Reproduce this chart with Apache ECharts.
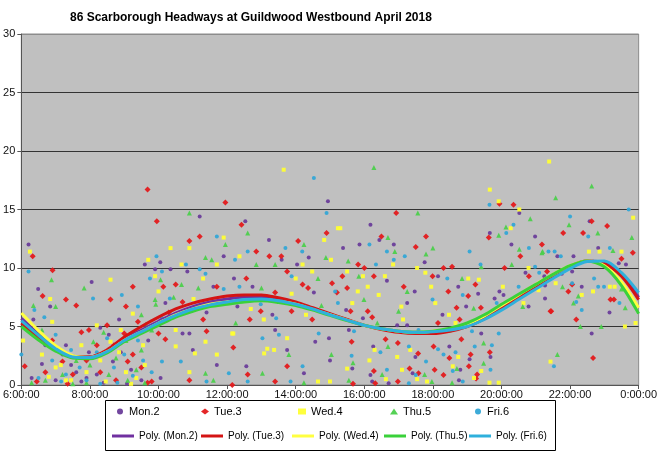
<!DOCTYPE html>
<html>
<head>
<meta charset="utf-8">
<script src="https://cdn.jsdelivr.net/npm/echarts@6/dist/echarts.min.js"></script>
<style>html,body{margin:0;padding:0;background:#fff;}#c{width:660px;height:453px;}</style>
</head>
<body>
<div id="c"></div>
<script>
const titleText = '86 Scarborough Headways at Guildwood Westbound April 2018';
const xTicks = [6, 8, 10, 12, 14, 16, 18, 20, 22, 24];
const seriesNames = ['Mon.2', 'Tue.3', 'Wed.4', 'Thu.5', 'Fri.6'];
const trendNames = ['Poly. (Mon.2)', 'Poly. (Tue.3)', 'Poly. (Wed.4)', 'Poly. (Thu.5)', 'Poly. (Fri.6)'];

// [hour of day, headway minutes]
const mon = [[6.21,12.0],[6.49,8.2],[6.84,6.7],[6.35,5.6],[6.7,3.4],[7.2,2.6],[7.45,1.7],[6.3,0.6],[7.0,0.4],[7.6,1.1],[7.75,0.3],[7.9,0.6],[6.6,1.8],[7.3,3.4],[7.97,2.8],
[8.05,8.8],[8.3,4.9],[8.55,4.3],[8.67,2.0],[8.9,2.8],[9.2,1.3],[8.2,0.9],[9.5,0.4],[9.7,3.8],[8.4,0.2],[8.85,5.6],[9.08,0.1],
[11.2,14.4],[10.05,10.5],[9.6,10.3],[11.9,11.0],[9.9,9.9],[10.35,9.9],[10.84,9.7],[10.2,7.0],[11.4,6.2],[10.7,4.4],[10.9,4.4],[11.0,3.0],[11.7,1.7],[10.06,0.6],[11.6,8.4],
[14.94,15.7],[12.53,14.0],[13.22,12.4],[13.59,10.7],[14.38,10.9],[14.04,10.3],[12.2,9.1],[12.74,8.4],[14.53,7.9],[12.3,6.7],[13.32,6.0],[13.4,4.7],[14.57,3.7],[14.97,4.0],[13.75,3.0],[15.0,2.1],[12.56,1.6],[14.24,1.0],
[16.18,13.7],[16.44,12.4],[15.38,11.7],[15.86,12.0],[16.86,12.0],[17.76,10.5],[16.66,8.9],[18.15,9.3],[17.47,8.0],[17.25,7.0],[15.47,6.4],[15.96,5.7],[18.28,6.0],[16.96,5.1],[17.25,5.1],[15.55,4.7],[16.26,3.3],[17.49,2.4],[15.65,1.4],[17.41,1.0],[16.18,0.85],[16.23,0.3],[16.71,0.15],
[20.52,14.7],[19.66,13.0],[20.98,12.7],[20.29,12.0],[20.7,9.6],[21.25,9.3],[18.74,8.4],[19.32,7.8],[19.94,8.0],[20.06,7.7],[19.8,7.4],[21.27,7.4],[20.79,6.7],[18.97,6.7],[19.41,4.4],[18.48,3.3],[19.07,2.2],[19.68,2.4],[18.8,1.3],[18.76,0.4],
[22.57,14.0],[22.82,11.7],[21.63,11.0],[22.1,11.0],[23.42,10.4],[23.63,10.3],[21.76,9.5],[22.06,9.7],[21.27,8.5],[22.34,8.4],[23.15,6.2],[22.63,4.4]];

const tue = [[6.33,11.0],[6.91,9.8],[6.62,7.6],[7.3,7.3],[6.1,1.6],[6.45,0.3],[6.9,3.8],[7.5,0.9],[7.2,2.0],[7.75,4.5],[6.7,1.1],[7.9,2.1],[7.6,6.8],[7.35,0.1],
[7.97,4.7],[8.2,3.4],[8.5,5.1],[8.7,3.4],[9.0,4.4],[9.25,2.6],[9.5,1.5],[9.8,0.3],[8.3,1.1],[8.76,0.4],[9.1,2.0],[9.4,5.4],[8.6,7.3],
[9.68,16.7],[11.95,15.6],[9.95,14.0],[10.9,12.3],[11.2,12.7],[9.25,8.4],[10.14,8.4],[10.5,8.6],[11.7,8.4],[10.7,7.1],[9.05,6.7],[10.3,6.2],[11.3,5.6],[11.4,4.6],[10.0,4.4],[10.2,3.9],[12.15,0.0],[9.68,0.2],[10.9,0.4],
[12.42,13.7],[14.07,12.3],[14.9,13.0],[12.85,11.4],[13.23,11.0],[13.58,11.0],[13.75,9.7],[15.06,8.7],[12.56,9.1],[14.2,8.6],[14.36,8.3],[15.2,7.9],[13.4,7.9],[12.98,6.3],[13.88,6.3],[12.66,5.6],[14.48,5.6],[12.18,3.2],[13.75,1.6],[12.6,0.9],[13.4,0.3],
[16.93,14.7],[16.5,12.7],[17.8,12.7],[17.5,11.8],[15.82,10.3],[16.0,10.0],[18.31,10.0],[15.36,9.3],[16.28,9.3],[17.99,9.3],[15.5,8.3],[17.15,8.4],[15.6,6.3],[16.1,6.3],[16.23,5.8],[18.15,5.3],[15.63,3.7],[16.62,3.9],[16.98,3.6],[17.57,2.7],[18.02,3.3],[16.28,1.2],[17.32,1.4],[18.05,1.3],[17.58,1.0],[15.67,0.1],[16.98,0.3],[18.31,0.85],[16.32,0.15],
[19.94,15.5],[20.35,15.4],[19.63,12.6],[21.18,12.0],[20.55,11.0],[18.56,10.1],[20.09,10.0],[20.8,9.3],[19.24,8.6],[18.45,8.0],[19.03,7.6],[18.69,6.6],[19.4,6.6],[21.45,6.3],[18.78,5.6],[18.83,3.9],[19.66,2.8],[19.1,2.6],[18.48,2.3],[19.05,1.6],[19.29,0.9],[19.26,0.55],
[22.63,14.0],[23.08,13.6],[21.8,13.0],[22.38,13.0],[23.83,11.3],[23.5,10.8],[21.33,9.7],[21.95,8.0],[23.18,7.3],[23.28,7.3],[21.43,6.3],[22.18,5.6],[22.67,2.3],[22.06,8.6]];

const wed = [[6.25,11.4],[6.84,7.35],[6.05,3.8],[6.6,2.6],[7.0,1.5],[6.8,0.7],[7.45,0.4],[7.15,1.7],[7.75,3.4],[7.9,1.1],[6.9,5.4],[7.3,0.4],
[8.6,9.0],[8.2,5.1],[8.6,3.7],[8.9,4.7],[8.3,2.1],[9.05,1.1],[9.35,0.6],[9.6,1.7],[8.46,0.3],[8.85,2.8],[9.2,0.1],[9.55,3.4],
[11.9,12.6],[10.35,11.7],[10.9,11.7],[9.7,10.7],[11.7,10.3],[10.67,10.3],[9.9,9.3],[11.3,9.1],[10.0,8.0],[11.02,7.35],[9.25,6.1],[10.5,4.7],[10.5,3.3],[11.37,3.7],[12.15,4.4],[11.06,2.7],[11.7,2.6],[10.9,1.1],
[13.65,18.4],[14.83,12.4],[15.23,13.4],[12.36,11.0],[15.03,10.7],[14.2,10.3],[14.48,9.7],[14.0,9.1],[13.88,7.8],[12.69,6.5],[14.3,6.0],[13.07,5.6],[12.18,4.4],[13.75,4.0],[13.08,2.7],[13.37,3.0],[13.17,3.1],[14.65,0.3],[15.0,0.3],
[15.3,13.4],[16.84,10.3],[17.54,10.0],[15.5,9.7],[15.96,9.3],[16.6,9.3],[17.78,9.6],[15.81,8.0],[16.1,8.4],[16.42,7.7],[17.95,8.4],[15.65,7.0],[18.07,7.0],[17.08,6.7],[17.13,5.6],[16.3,3.0],[17.34,3.0],[16.15,2.1],[16.96,2.4],[15.5,1.4],[17.1,1.3],[17.54,0.5],[17.83,0.3],[16.63,0.5],
[19.66,16.7],[19.92,15.7],[20.52,15.0],[20.27,13.4],[20.79,10.0],[19.03,9.1],[19.34,9.0],[20.04,8.4],[21.08,8.1],[20.64,7.0],[18.47,6.0],[18.66,5.3],[18.74,2.4],[18.58,1.6],[19.41,1.2],[19.2,0.6],[19.92,0.2],[19.65,0.2],
[21.39,19.1],[23.84,14.3],[22.55,11.4],[22.86,11.4],[23.5,11.4],[21.58,8.7],[23.16,8.4],[23.3,8.4],[22.67,8.0],[22.34,7.7],[23.6,5.0],[23.91,5.3],[21.43,2.0]];

const thu = [[6.88,9.0],[6.35,6.8],[7.0,6.7],[6.3,0.2],[6.7,0.4],[7.2,0.9],[7.6,2.1],[6.9,3.4],[7.9,0.2],[6.6,4.7],[7.5,0.1],[8.0,1.7],
[7.83,8.3],[8.1,3.7],[8.4,4.5],[8.76,2.3],[9.05,3.8],[9.35,1.3],[9.6,0.2],[8.55,0.9],[9.5,3.0],[9.1,0.4],[9.8,4.7],[9.9,7.3],
[10.9,14.7],[11.95,12.0],[11.37,10.9],[11.55,10.7],[10.06,9.0],[10.67,8.6],[11.16,8.3],[10.44,7.5],[9.92,6.9],[9.5,6.0],[9.63,5.2],[11.37,1.0],[11.6,0.4],
[12.6,13.0],[14.24,12.0],[14.88,10.9],[13.4,10.3],[12.85,10.3],[14.65,9.1],[13.0,8.3],[14.75,6.8],[12.25,5.3],[15.04,2.6],[13.03,1.0],[14.24,0.2],[13.8,2.6],
[16.28,18.6],[17.56,14.7],[16.69,12.6],[18.0,11.7],[16.89,11.4],[17.8,11.2],[15.53,10.6],[15.84,9.3],[17.25,8.0],[15.99,7.3],[17.0,6.3],[16.38,5.3],[16.69,3.3],[15.67,1.9],[17.76,0.9],[16.52,0.9],[15.55,0.4],[17.97,0.3],
[20.84,14.2],[20.13,13.5],[19.92,12.8],[20.52,11.6],[21.18,11.3],[19.41,10.1],[20.3,10.3],[18.85,9.1],[20.62,6.7],[19.19,6.55],[18.47,4.7],[19.48,3.6],[19.48,1.85],[18.7,1.4],[18.56,0.2],
[22.63,17.0],[21.58,16.0],[21.97,13.7],[22.81,13.0],[23.8,12.6],[21.2,11.4],[23.25,11.5],[21.78,8.4],[23.5,8.2],[22.24,7.6],[22.1,7.0],[23.61,6.6],[22.3,5.0],[22.91,5.0],[21.63,2.6]];

const fri = [[6.21,9.7],[6.0,2.6],[6.38,6.4],[6.67,5.8],[7.0,4.3],[7.3,0.9],[7.7,1.5],[6.9,2.1],[6.5,0.6],[7.9,0.4],[7.45,3.0],[7.16,0.3],
[8.09,7.4],[8.93,7.7],[8.2,2.8],[8.5,4.0],[8.7,1.5],[9.0,2.6],[9.25,0.8],[9.55,2.1],[8.3,0.1],[9.4,3.8],[8.8,0.2],[9.8,1.1],
[11.7,12.7],[9.94,11.0],[10.8,10.3],[10.1,9.7],[11.2,9.9],[11.37,9.5],[9.75,9.1],[11.9,8.2],[10.33,7.4],[9.4,6.7],[10.1,5.7],[9.3,4.4],[10.1,2.0],[10.65,2.0],[11.4,0.3],[12.05,1.0],
[14.53,17.7],[14.9,14.7],[13.7,11.7],[14.19,11.4],[12.6,11.4],[12.23,10.7],[13.88,9.3],[12.36,8.4],[15.15,8.0],[12.98,6.9],[15.23,7.0],[13.43,5.7],[13.03,4.0],[13.51,4.3],[14.67,4.4],[14.2,1.6],[12.6,0.3],[13.85,0.3],
[16.15,12.0],[16.66,11.4],[17.18,11.0],[16.34,10.3],[16.86,10.7],[17.99,7.3],[15.7,4.6],[17.58,4.7],[17.3,3.3],[16.47,2.8],[18.15,3.05],[18.31,2.6],[15.63,2.5],[17.8,2.0],[16.66,1.3],[17.5,0.85],[17.3,0.15],
[19.65,15.4],[20.35,13.7],[20.14,13.0],[20.8,11.7],[19.07,11.4],[19.39,10.3],[20.98,10.1],[18.42,9.1],[20.5,8.4],[18.87,7.7],[19.86,7.0],[19.92,4.4],[19.14,4.6],[19.22,3.3],[19.72,3.4],[18.66,2.8],[18.58,1.2],[19.68,1.3],[18.87,0.3],
[23.71,15.0],[22.0,14.4],[22.53,12.7],[23.16,11.7],[21.37,11.4],[21.55,11.4],[21.73,11.0],[21.1,9.6],[22.7,9.1],[22.06,8.7],[22.82,8.4],[22.99,8.4],[22.18,7.1],[23.44,7.0],[22.34,6.4],[21.53,1.6]];

// polynomial trend lines, every half hour
const trendHours = [6,6.5,7,7.5,8,8.5,9,9.5,10,10.5,11,11.5,12,12.5,13,13.5,14,14.5,15,15.5,16,16.5,17,17.5,18,18.5,19,19.5,20,20.5,21,21.5,22,22.5,23,23.5,24];
const polyMon = [5.7,4.35,3.2,2.45,2.4,2.9,3.9,4.7,5.45,6.15,6.7,7.1,7.35,7.5,7.5,7.3,7.0,6.55,6.05,5.55,5.1,4.8,4.6,4.5,4.55,4.75,5.15,5.75,6.55,7.45,8.35,9.25,10.1,10.6,10.45,9.4,7.5];
const polyTue = [5.3,4.1,3.1,2.4,2.4,3.0,4.1,5.0,5.8,6.5,7.0,7.35,7.6,7.7,7.7,7.45,7.1,6.6,6.1,5.6,5.1,4.75,4.5,4.4,4.4,4.6,5.0,5.65,6.5,7.45,8.4,9.3,10.15,10.6,10.35,9.3,7.3];
const polyWed = [6.15,4.65,3.35,2.5,2.35,2.85,3.8,4.55,5.3,6.0,6.5,6.9,7.1,7.25,7.3,7.15,6.9,6.45,6.0,5.55,5.1,4.8,4.6,4.5,4.6,4.8,5.2,5.9,6.8,7.7,8.6,9.45,10.2,10.6,10.2,8.8,6.6];
const polyThu = [5.0,3.85,2.9,2.3,2.25,2.75,3.7,4.4,5.1,5.8,6.3,6.7,6.9,7.1,7.2,7.05,6.8,6.4,5.95,5.5,5.1,4.8,4.6,4.5,4.6,4.85,5.3,6.0,6.9,7.75,8.6,9.45,10.2,10.6,10.1,8.5,6.1];
const polyFri = [5.5,4.25,3.1,2.4,2.35,2.85,3.8,4.55,5.3,5.95,6.5,6.85,7.1,7.3,7.35,7.2,6.9,6.5,6.0,5.55,5.1,4.8,4.6,4.5,4.55,4.7,5.0,5.6,6.4,7.3,8.2,9.1,9.95,10.55,10.6,9.6,7.9];

const scatterData = [mon, tue, wed, thu, fri];
const trendData = [polyMon, polyTue, polyWed, polyThu, polyFri];
const dotColors = ['#6a3d9a', '#e31a1c', '#ffff33', '#4ccf4c', '#33a7d6'];
const lineColors = ['#7030a0', '#d41414', '#ffff40', '#3ad13a', '#2fb0dc'];
const symbols = ['circle', 'diamond', 'rect', 'triangle', 'circle'];
const symbolSizes = [4, 6, 4, 5, 4];

const FONT = '"Liberation Sans", Arial, sans-serif';
const chart = echarts.init(document.getElementById('c'), null, {renderer: 'canvas'});

const series = [];
scatterData.forEach((d, i) => {
  series.push({
    name: seriesNames[i], type: 'scatter', data: d,
    symbol: symbols[i], symbolSize: symbolSizes[i],
    itemStyle: {color: dotColors[i], opacity: 0.95},
    z: 2, silent: true
  });
});
trendData.forEach((d, i) => {
  series.push({
    name: trendNames[i], type: 'line',
    data: trendHours.map((h, k) => [h, d[k]]),
    smooth: 0.3, showSymbol: false, symbol: 'none',
    lineStyle: {color: lineColors[i], width: 3},
    itemStyle: {color: lineColors[i]},
    z: 3, silent: true
  });
});

const row1Left = [117, 201, 298, 390, 475];
const row2Left = [112, 201, 292, 384, 469];
const legends = [];
seriesNames.forEach((n, i) => legends.push({
  data: [n], left: row1Left[i], top: 406, itemWidth: 8, itemHeight: 6, itemGap: 0, padding: 0,
  textStyle: {fontFamily: FONT, fontSize: 11, color: '#000'}, selectedMode: false
}));
trendNames.forEach((n, i) => legends.push({
  data: [n], left: row2Left[i], top: 431, icon: 'rect', itemWidth: 22, itemHeight: 3, itemGap: 0, padding: 0,
  textStyle: {fontFamily: FONT, fontSize: 10, color: '#000'}, selectedMode: false
}));

chart.setOption({
  animation: false,
  backgroundColor: '#ffffff',
  textStyle: {fontFamily: FONT},
  title: {
    text: titleText, left: 65, top: 7,
    textStyle: {fontFamily: FONT, fontSize: 12, fontWeight: 'bold', color: '#000'}
  },
  grid: {left: 20, right: 20, top: 34, bottom: 68, show: true, backgroundColor: '#c0c0c0', borderColor: '#8c8c8c', borderWidth: 1},
  legend: legends,
  graphic: [{
    type: 'rect', left: 105, top: 400, shape: {width: 450, height: 50},
    style: {fill: '#fff', stroke: '#000', lineWidth: 1}, z: -1, silent: true
  }],
  xAxis: {
    type: 'value', min: 6, max: 24, interval: 2,
    axisLine: {show: true, onZero: false, lineStyle: {color: '#555', width: 1}},
    axisTick: {show: true, length: 4, lineStyle: {color: '#555'}},
    axisLabel: {
      fontFamily: FONT, fontSize: 11, color: '#111', margin: 4,
      formatter: v => (v % 24) + ':00:00'
    },
    splitLine: {show: false}
  },
  yAxis: {
    type: 'value', min: 0, max: 30, interval: 5,
    axisLine: {show: true, lineStyle: {color: '#555', width: 1}},
    axisTick: {show: true, length: 4, lineStyle: {color: '#555'}},
    axisLabel: {fontFamily: FONT, fontSize: 11, color: '#111', margin: 6},
    splitLine: {show: true, lineStyle: {color: ['#555', '#333', '#333', '#333', '#333', '#333', '#8c8c8c'], width: 1}}
  },
  series: series
});
</script>
</body>
</html>
